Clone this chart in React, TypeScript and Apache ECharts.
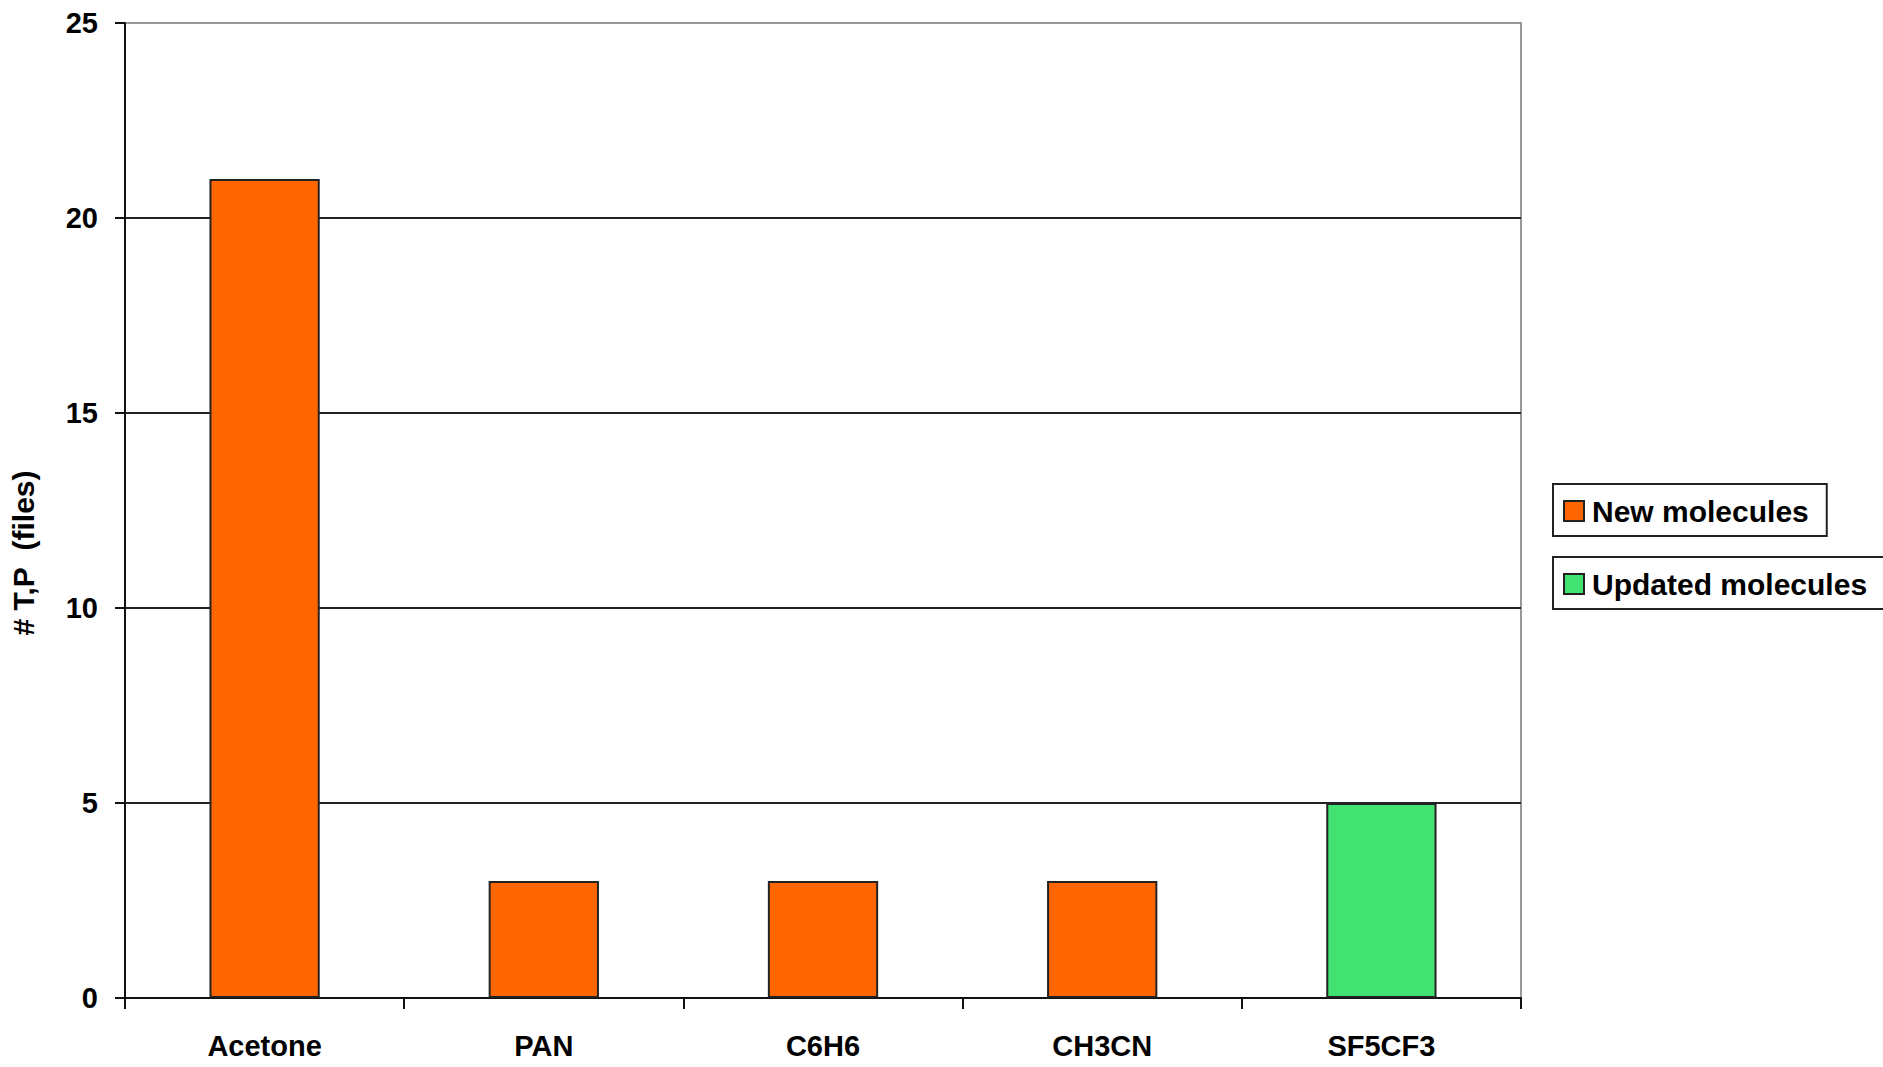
import React, { useEffect, useRef } from "react";
import * as echarts from "echarts";

const categories = ["Acetone", "PAN", "C6H6", "CH3CN", "SF5CF3"];
const newMolecules = [21, 3, 3, 3, null];
const updatedMolecules = [null, null, null, null, 5];
const yTitle = "# T,P\u00a0\u00a0(files)";

const FONT = "Liberation Sans, Arial, sans-serif";

export default function App() {
  const ref = useRef<HTMLDivElement>(null);
  useEffect(() => {
    if (!ref.current) return;
    const chart = echarts.init(ref.current, null, { renderer: "svg" });
    const legendBase = {
      orient: "vertical",
      left: 1553,
      itemWidth: 20,
      itemHeight: 20,
      icon: "rect",
      borderColor: "#222",
      borderWidth: 2,
      borderRadius: 0,
      backgroundColor: "#fff",
      padding: [12, 18, 10, 10],
      textStyle: { fontFamily: FONT, fontSize: 30, fontWeight: "bold", color: "#000", padding: [0, 0, 0, 3] },
      selectedMode: false,
    };
    chart.setOption({
      animation: false,
      backgroundColor: "#fff",
      textStyle: { fontFamily: FONT },
      grid: {
        left: 125,
        right: 362,
        top: 23,
        bottom: 69,
        show: true,
        borderColor: "#999",
        borderWidth: 2,
        backgroundColor: "#fff",
      },
      legend: [
        { ...legendBase, top: 484, data: ["New molecules"] },
        { ...legendBase, top: 557, data: ["Updated molecules"] },
      ],
      xAxis: {
        type: "category",
        data: categories,
        axisLine: { show: true, lineStyle: { color: "#111", width: 2 } },
        axisTick: { show: true, alignWithLabel: false, length: 11, lineStyle: { color: "#111", width: 2 } },
        axisLabel: { fontFamily: FONT, fontSize: 29, fontWeight: "bold", color: "#000", margin: 33 },
      },
      yAxis: {
        type: "value",
        min: 0,
        max: 25,
        interval: 5,
        axisLine: { show: true, lineStyle: { color: "#111", width: 2 } },
        axisTick: { show: true, length: 10, lineStyle: { color: "#111", width: 2 } },
        axisLabel: { fontFamily: FONT, fontSize: 29, fontWeight: "bold", color: "#000", margin: 27 },
        splitLine: { show: true, showMaxLine: false, lineStyle: { color: "#222", width: 2 } },
      },
      graphic: [
        {
          type: "text",
          x: 23,
          y: 553,
          rotation: Math.PI / 2,
          style: {
            text: yTitle,
            fontFamily: FONT,
            fontSize: 30,
            fontWeight: "bold",
            fill: "#000",
            textAlign: "center",
            textVerticalAlign: "middle",
          },
        },
      ],
      series: [
        {
          name: "New molecules",
          type: "bar",
          stack: "total",
          barWidth: "39.5%",
          data: newMolecules,
          itemStyle: { color: "#FF6600", borderColor: "#222", borderWidth: 2 },
        },
        {
          name: "Updated molecules",
          type: "bar",
          stack: "total",
          barWidth: "39.5%",
          data: updatedMolecules,
          itemStyle: { color: "#42E272", borderColor: "#222", borderWidth: 2 },
        },
      ],
    });
    return () => chart.dispose();
  }, []);
  return (
    <div
      ref={ref}
      style={{ position: "fixed", left: 0, top: 0, width: 1883, height: 1067 }}
    />
  );
}
